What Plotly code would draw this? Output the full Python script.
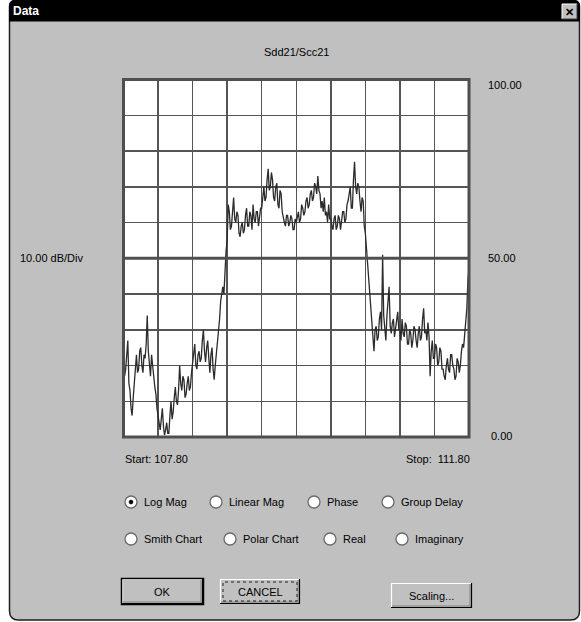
import numpy as np
import plotly.graph_objects as go

# ---------------- data ----------------
START_FREQ = 107.80
STOP_FREQ = 111.80
Y_MIN, Y_MAX = 0.0, 100.0
Y_DIV = 10.0
TITLE = "Sdd21/Scc21"
SCALE_LABEL = "10.00 dB/Div"
Y_TICK_LABELS = ["100.00", "50.00", "0.00"]
RADIO_ROW1 = ["Log Mag", "Linear Mag", "Phase", "Group Delay"]
RADIO_ROW2 = ["Smith Chart", "Polar Chart", "Real", "Imaginary"]
BUTTONS = ["OK", "CANCEL", "Scaling..."]

seg_a = [21, 17, 19, 24, 27, 15, 13, 8, 6, 11, 16, 21, 23, 18, 19, 24,
         25, 20, 18, 23, 22, 26, 34, 24, 20, 17, 23, 19, 17, 14, 12, 8]
seg_b = [6, 3, 2, 5, 8, 3, 0.5, 2, 4, 1, 1, 6, 10, 5, 7, 11,
         14, 10, 9, 13, 20, 15, 13, 17, 16, 11, 12, 15, 17, 13, 14, 18]
seg_c = [21, 24, 26, 20, 19, 23, 24, 21, 22, 27, 30, 24, 21, 25, 27, 22,
         18, 23, 25, 19, 16, 20, 23, 26, 29, 33, 38, 41, 42, 40, 47, 52]
seg_d = [55, 65, 63, 58, 59, 64, 67, 61, 60, 63, 62, 57, 56, 59, 60, 57,
         58, 62, 64, 59, 59, 63, 62, 58, 65, 61, 60, 63, 63, 59, 61, 64]
seg_e = [64, 68, 70, 66, 67, 72, 75, 69, 70, 74, 72, 67, 66, 70, 71, 65,
         64, 69, 68, 63, 61, 60, 59, 62, 62, 59, 60, 62, 61, 58, 58, 61]
seg_f = [60, 62, 63, 60, 61, 65, 64, 62, 63, 66, 67, 64, 65, 68, 69, 66,
         67, 71, 70, 68, 73, 69, 68, 64, 66, 63, 67, 62, 63, 60, 65, 61]
seg_g = [61, 59, 58, 61, 62, 58, 59, 62, 61, 58, 60, 63, 63, 60, 61, 65,
         66, 69, 70, 64, 64, 72, 77, 70, 68, 71, 70, 66, 63, 67, 66, 59]
seg_h = [57, 53, 49, 44, 40, 36, 33, 27, 24, 30, 31, 27, 28, 33, 35, 30,
         51, 34, 30, 27, 34, 37, 42, 31, 29, 32, 33, 28, 31, 34, 35, 30]
seg_i = [30, 27, 33, 29, 28, 32, 31, 26, 26, 30, 29, 25, 27, 31, 30, 27,
         25, 29, 31, 27, 28, 33, 36, 29, 30, 27, 32, 28, 17, 24, 27, 22]
seg_j = [22, 26, 25, 20, 21, 25, 24, 19, 19, 17, 16, 20, 22, 19, 18, 23,
         23, 20, 19, 16, 17, 22, 21, 18, 20, 24, 26, 25, 29, 33, 36, 44, 47]

magnitude_db = seg_a + seg_b + seg_c + seg_d + seg_e + seg_f + seg_g + seg_h + seg_i + seg_j
freq = np.linspace(START_FREQ, STOP_FREQ, len(magnitude_db))

# ---------------- layout helpers (pixel -> paper) ----------------
W, H = 581, 622
FONT = "Liberation Sans, Arial, sans-serif"


def px(x):
    return x / W


def py(y):
    return 1 - y / H


PLOT_L, PLOT_R, PLOT_T, PLOT_B = 123.5, 469.0, 79.5, 437.0

shapes = []
annotations = []


def rect(x0, y0, x1, y1, fill=None, line_color=None, lw=1, layer="below", dash=None):
    line = dict(width=lw if line_color else 0, color=line_color or "rgba(0,0,0,0)")
    if dash:
        line["dash"] = dash
    shapes.append(dict(type="rect", xref="paper", yref="paper",
                       x0=px(x0), x1=px(x1), y0=py(y1), y1=py(y0),
                       fillcolor=fill or "rgba(0,0,0,0)", line=line, layer=layer))


def hline(x0, x1, y, color, lw=1, layer="above"):
    shapes.append(dict(type="line", xref="paper", yref="paper",
                       x0=px(x0), x1=px(x1), y0=py(y), y1=py(y),
                       line=dict(color=color, width=lw), layer=layer))


def vline(x, y0, y1, color, lw=1, layer="above"):
    shapes.append(dict(type="line", xref="paper", yref="paper",
                       x0=px(x), x1=px(x), y0=py(y0), y1=py(y1),
                       line=dict(color=color, width=lw), layer=layer))


def rounded_path(x0, y0, x1, y1, r_top, r_bot):
    P = lambda x, y: f"{px(x)},{py(y)}"
    d = (f"M {P(x0 + r_top, y0)} L {P(x1 - r_top, y0)} Q {P(x1, y0)} {P(x1, y0 + r_top)} "
         f"L {P(x1, y1 - r_bot)} Q {P(x1, y1)} {P(x1 - r_bot, y1)} "
         f"L {P(x0 + r_bot, y1)} Q {P(x0, y1)} {P(x0, y1 - r_bot)} "
         f"L {P(x0, y0 + r_top)} Q {P(x0, y0)} {P(x0 + r_top, y0)} Z")
    return d


def text(x, y, s, xanchor="left", size=11, color="black", bold=False):
    if bold:
        s = f"<b>{s}</b>"
    annotations.append(dict(x=px(x), y=py(y), xref="paper", yref="paper", text=s,
                            showarrow=False, xanchor=xanchor, yanchor="middle",
                            font=dict(family=FONT, size=size, color=color)))


# dialog body
shapes.append(dict(type="path", xref="paper", yref="paper",
                   path=rounded_path(9.5, 0.5, 579.5, 620, 6, 9),
                   fillcolor="#c0c0c0", line=dict(color="#1e1e1e", width=1.5), layer="below"))
# title bar
shapes.append(dict(type="path", xref="paper", yref="paper",
                   path=rounded_path(9.5, 0.5, 579.5, 21, 6, 0.01),
                   fillcolor="#000000", line=dict(color="#000000", width=1), layer="below"))
text(11, 11, "Data", color="white", size=12, bold=True)
# close button
rect(562, 4, 577, 19, fill="#c0c0c0", layer="below")
hline(562, 577, 4, "white", 1, layer="below")
vline(562, 4, 19, "white", 1, layer="below")
hline(562, 577, 19, "#404040", 1, layer="below")
vline(577, 4, 19, "#404040", 1, layer="below")
text(569.5, 12, "<b>✕</b>", xanchor="center", size=11)

# plot background
rect(PLOT_L, PLOT_T, PLOT_R, PLOT_B, fill="white", layer="below")
# frame
rect(PLOT_L, PLOT_T, PLOT_R, PLOT_B, line_color="#4f4f4f", lw=3, layer="above")
# center reference line (50 dB)
shapes.append(dict(type="line", xref="x", yref="y", x0=START_FREQ, x1=STOP_FREQ,
                   y0=(Y_MIN + Y_MAX) / 2, y1=(Y_MIN + Y_MAX) / 2,
                   line=dict(color="#4f4f4f", width=3), layer="above"))

# texts around the plot
text((PLOT_L + PLOT_R) / 2, 52, TITLE, xanchor="center")
text(18, 258, SCALE_LABEL)
text(486, 85, Y_TICK_LABELS[0])
text(486, 258, Y_TICK_LABELS[1])
text(489, 436, Y_TICK_LABELS[2])
text(123, 459, f"Start: {START_FREQ:.2f}")
text(472, 459, f"Stop:\u00a0 {STOP_FREQ:.2f}", xanchor="right")

# radio buttons
row1_cx = [131, 216, 314, 388]
row2_cx = [131, 230, 330, 402]


def radio(cx, cy, label, checked=False):
    r = 6
    shapes.append(dict(type="circle", xref="paper", yref="paper",
                       x0=px(cx - r), x1=px(cx + r), y0=py(cy + r), y1=py(cy - r),
                       fillcolor="white", line=dict(color="#6a6a6a", width=1.3), layer="above"))
    if checked:
        rr = 2
        shapes.append(dict(type="circle", xref="paper", yref="paper",
                           x0=px(cx - rr), x1=px(cx + rr), y0=py(cy + rr), y1=py(cy - rr),
                           fillcolor="black", line=dict(color="black", width=0.5), layer="above"))
    text(cx + 11, cy, label)


for i, (cx, lab) in enumerate(zip(row1_cx, RADIO_ROW1)):
    radio(cx, 502, lab, checked=(i == 0))
for cx, lab in zip(row2_cx, RADIO_ROW2):
    radio(cx, 539, lab)


def button(x0, y0, x1, y1, label, default=False, focus=False):
    rect(x0, y0, x1, y1, fill="#c0c0c0", layer="above")
    hline(x0, x1, y0 + 0.5, "white", 1.2)
    vline(x0 + 0.5, y0, y1, "white", 1.2)
    hline(x0, x1, y1 - 0.5, "#000000", 1.2)
    vline(x1 - 0.5, y0, y1, "#000000", 1.2)
    hline(x0 + 1, x1 - 1, y1 - 2, "#808080", 1)
    vline(x1 - 2, y0 + 1, y1 - 1, "#808080", 1)
    if default:
        rect(x0 - 0.5, y0 - 0.5, x1 + 0.5, y1 + 0.5, line_color="black", lw=1.5, layer="above")
    if focus:
        rect(x0 + 3, y0 + 3, x1 - 3, y1 - 3, line_color="#202020", lw=1, layer="above", dash="dot")
    text((x0 + x1) / 2, (y0 + y1) / 2, label, xanchor="center")


button(122, 579, 203, 604, BUTTONS[0], default=True)
button(220, 579, 300, 604, BUTTONS[1], focus=True)
button(391, 583, 472, 608, BUTTONS[2])

# ---------------- figure ----------------
fig = go.Figure()
fig.add_trace(go.Scatter(x=freq, y=magnitude_db, mode="lines",
                         line=dict(color="#2b2b2b", width=1.3), hoverinfo="skip"))

fig.update_layout(
    width=W, height=H, autosize=False,
    margin=dict(l=0, r=0, t=0, b=0, pad=0),
    paper_bgcolor="white", plot_bgcolor="rgba(0,0,0,0)",
    showlegend=False,
    shapes=shapes, annotations=annotations,
    xaxis=dict(domain=[px(PLOT_L), px(PLOT_R)], range=[START_FREQ, STOP_FREQ],
               tick0=START_FREQ, dtick=(STOP_FREQ - START_FREQ) / 10,
               showgrid=True, gridcolor="#555555", gridwidth=1.5,
               showticklabels=False, ticks="", zeroline=False, showline=False, fixedrange=True),
    yaxis=dict(domain=[py(PLOT_B), py(PLOT_T)], range=[Y_MIN, Y_MAX],
               tick0=Y_MIN, dtick=Y_DIV,
               showgrid=True, gridcolor="#555555", gridwidth=1.5,
               showticklabels=False, ticks="", zeroline=False, showline=False, fixedrange=True),
)

fig.write_html("out.html", config={"displayModeBar": False, "staticPlot": True},
               post_script="document.body.style.margin='0';document.body.style.overflow='hidden';")
